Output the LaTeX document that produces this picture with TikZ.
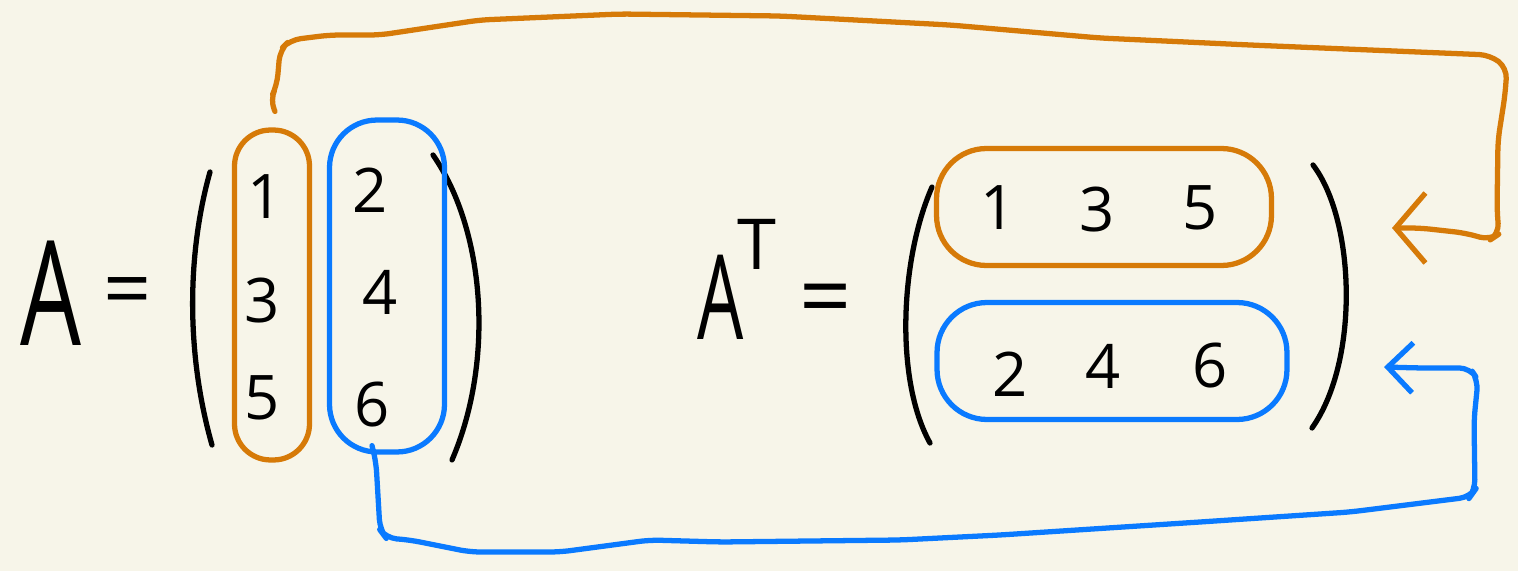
\documentclass[tikz,border=0pt]{standalone}
\usepackage{fontspec}
\setmainfont{Open Sans}
\usetikzlibrary{arrows.meta}
\definecolor{paper}{RGB}{247,245,233}
\definecolor{ocol}{RGB}{214,122,8}
\definecolor{bcol}{RGB}{10,122,255}
\tikzset{
  pen/.style={line width=3pt,line cap=round,line join=round},
  entry/.style={font=\fontsize{35}{35}\selectfont,inner sep=0pt},
  loopbox/.style={draw,pen,inner sep=0pt},
}
\begin{document}
\begin{tikzpicture}[x=0.02cm,y=-0.02cm]
    \fill[paper] (0,0) rectangle (1518,571);
    \useasboundingbox (0,0) rectangle (1518,571);

    % A = ( ... )
    \node[font=\fontsize{83}{83}\selectfont,inner sep=0pt,xscale=0.66,transform shape] (lhsA) at (51,293) {A};
    \node[font=\fontsize{48}{48}\selectfont,inner sep=0pt] (eqA) at (128,298) {=};
    \draw[pen] (210,172) .. controls (188,250) and (185,350) .. (212,445);
    \draw[pen] (433,155) .. controls (485,230) and (495,360) .. (452,460);
    \node[entry] (a1) at (265,197) {1};
    \node[entry] (a3) at (262,301) {3};
    \node[entry] (a5) at (262,398) {5};
    \node[entry] (a2) at (370,190) {2};
    \node[entry] (a4) at (380,292) {4};
    \node[entry] (a6) at (372,405) {6};
    \node[loopbox,ocol,minimum width=1.5cm,minimum height=6.6cm,rounded corners=0.72cm] (col1) at (272,295) {};
    \node[loopbox,bcol,minimum width=2.3cm,minimum height=6.64cm,rounded corners=0.95cm] (col2) at (387,286) {};

    % A^T = ( ... )
    \node[font=\fontsize{67}{67}\selectfont,inner sep=0pt,xscale=0.62,transform shape] (lhsAT) at (721,297) {A};
    \node[font=\fontsize{40}{40}\selectfont,inner sep=0pt] (supT) at (757,244) {T};
    \node[font=\fontsize{52}{52}\selectfont,inner sep=0pt] (eqAT) at (826,306) {=};
    \draw[pen] (932,187) .. controls (900,260) and (895,380) .. (930,443);
    \draw[pen] (1313,165) .. controls (1355,220) and (1360,360) .. (1312,428);
    \node[entry] (t1) at (998,208) {1};
    \node[entry] (t3) at (1097,210) {3};
    \node[entry] (t5) at (1200,208) {5};
    \node[entry] (t2) at (1010,374) {2};
    \node[entry] (t4) at (1103,366) {4};
    \node[entry] (t6) at (1210,366) {6};
    \node[loopbox,ocol,minimum width=6.7cm,minimum height=2.34cm,rounded corners=1cm] (row1) at (1104,207) {};
    \node[loopbox,bcol,minimum width=7cm,minimum height=2.34cm,rounded corners=1cm] (row2) at (1112,361) {};

    % connectors
    \coordinate (tipO) at (1392,228);
    \coordinate (tipB) at (1384,367);
    \draw[pen,ocol,rounded corners=6pt,-{Straight Barb[length=0.6cm,width=1.4cm]}]
        (col1.north) ++(3,-16) -- (270,100) -- (277,85) -- (280,50) -- (290,40) -- (330,35)
        -- (380,35) -- (480,20) -- (620,14) -- (780,16) -- (950,25) -- (1100,38)
        -- (1250,45) -- (1490,55) -- (1507,68) -- (1505,95) -- (1498,140) -- (1497,210)
        -- (1499,234) -- (1490,240) -- (1465,233) -- (1420,228) -- (tipO);
    \draw[pen,bcol,rounded corners=6pt,-{Straight Barb[length=0.5cm,width=1cm]}]
        (col2.south) ++(-15,-9) -- (376,462) -- (380,530) -- (386,538) -- (410,540)
        -- (470,552) -- (560,552) -- (650,540) -- (720,542) -- (900,540) -- (1000,535)
        -- (1200,522) -- (1350,512) -- (1470,497) -- (1475,490) -- (1474,420)
        -- (1478,380) -- (1470,368) -- (1420,368) -- (tipB);
\end{tikzpicture}
\end{document}
